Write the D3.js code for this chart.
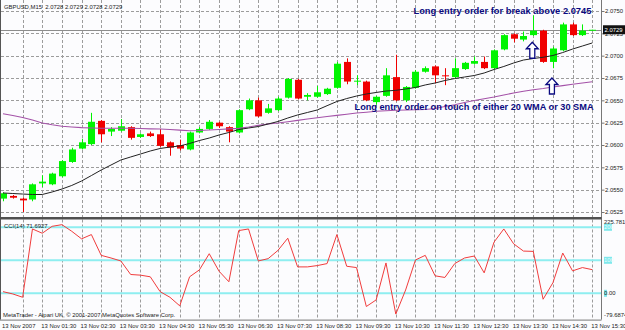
<!DOCTYPE html>
<html>
<head>
  <title>GBPUSD M15</title>
  <script src="https://cdnjs.cloudflare.com/ajax/libs/d3/7.8.5/d3.min.js"></script>
  <style>
    body {
        margin: 0;
        background: #fcfcfe;
    }
    svg {
        display: block;
        font-family: "Liberation Sans", Arial, sans-serif;
    }
  </style>
</head>
<body>
<div id="chart"></div>
<script>
// ---------------- data (M15 bars, 13 Nov 2007) ----------------
var opens = [2.0540, 2.0543, 2.0540, 2.0539, 2.0557, 2.0556, 2.0565, 2.0581, 2.0596, 2.0601,
             2.0627, 2.0615, 2.0616, 2.0620, 2.0609, 2.0613, 2.0612, 2.0603, 2.0600, 2.0595,
             2.0614, 2.0618, 2.0625, 2.0620, 2.0614, 2.0640, 2.0650, 2.0636, 2.0639, 2.0653,
             2.0673, 2.0654, 2.0654, 2.0657, 2.0664, 2.0693, 2.0671, 2.0671, 2.0648, 2.0655,
             2.0676, 2.0650, 2.0664, 2.0682, 2.0688, 2.0678, 2.0676, 2.0685, 2.0691, 2.0693,
             2.0686, 2.0707, 2.0724, 2.0718, 2.0723, 2.0728, 2.0693, 2.0706, 2.0735, 2.0723, 2.0728];
var highs = [2.0547, 2.0544, 2.0541, 2.0557, 2.0566, 2.0569, 2.0583, 2.0597, 2.0607, 2.0636,
             2.0628, 2.0620, 2.0629, 2.0621, 2.0613, 2.0615, 2.0618, 2.0604, 2.0606, 2.0615,
             2.0620, 2.0628, 2.0626, 2.0621, 2.0640, 2.0652, 2.0653, 2.0646, 2.0654, 2.0675,
             2.0674, 2.0658, 2.0666, 2.0664, 2.0693, 2.0697, 2.0678, 2.0672, 2.0655, 2.0686,
             2.0701, 2.0666, 2.0684, 2.0688, 2.0689, 2.0686, 2.0697, 2.0693, 2.0699, 2.0699,
             2.0707, 2.0724, 2.0725, 2.0727, 2.0745, 2.0729, 2.0710, 2.0737, 2.0737, 2.0735, 2.0729];
var lows = [2.0537, 2.0540, 2.0525, 2.0537, 2.0553, 2.0555, 2.0564, 2.0580, 2.0595, 2.0600,
            2.0603, 2.0610, 2.0615, 2.0606, 2.0608, 2.0609, 2.0598, 2.0588, 2.0594, 2.0594,
            2.0613, 2.0617, 2.0619, 2.0603, 2.0613, 2.0639, 2.0631, 2.0635, 2.0638, 2.0652,
            2.0651, 2.0650, 2.0653, 2.0656, 2.0663, 2.0668, 2.0667, 2.0649, 2.0645, 2.0654,
            2.0649, 2.0648, 2.0663, 2.0681, 2.0669, 2.0667, 2.0675, 2.0684, 2.0690, 2.0685,
            2.0685, 2.0706, 2.0715, 2.0716, 2.0722, 2.0692, 2.0686, 2.0705, 2.0722, 2.0722, 2.0728];
var closes = [2.0546, 2.0541, 2.0538, 2.0556, 2.0559, 2.0568, 2.0582, 2.0595, 2.0603, 2.0626,
              2.0612, 2.0618, 2.0621, 2.0608, 2.0612, 2.0610, 2.0599, 2.0597, 2.0596, 2.0614,
              2.0618, 2.0626, 2.0621, 2.0615, 2.0639, 2.0650, 2.0632, 2.0641, 2.0652, 2.0674,
              2.0652, 2.0656, 2.0659, 2.0663, 2.0691, 2.0671, 2.0672, 2.0650, 2.0654, 2.0678,
              2.0650, 2.0665, 2.0682, 2.0686, 2.0678, 2.0677, 2.0686, 2.0692, 2.0694, 2.0686,
              2.0706, 2.0723, 2.0719, 2.0722, 2.0728, 2.0693, 2.0708, 2.0735, 2.0723, 2.0728, 2.0729];

// 20 WMA (black) and 30 SMA (purple)
var wma20 = [2.05463, 2.05457, 2.05451, 2.05446, 2.05446, 2.05474, 2.05507, 2.05547, 2.05597, 2.05658,
             2.05720, 2.05776, 2.05832, 2.05866, 2.05899, 2.05933, 2.05961, 2.05977, 2.05989, 2.06017,
             2.06050, 2.06078, 2.06112, 2.06140, 2.06173, 2.06190, 2.06207, 2.06235, 2.06263, 2.06302,
             2.06336, 2.06364, 2.06392, 2.06440, 2.06487, 2.06520, 2.06548, 2.06571, 2.06588, 2.06604,
             2.06612, 2.06627, 2.06644, 2.06672, 2.06694, 2.06722, 2.06744, 2.06761, 2.06778, 2.06806,
             2.06845, 2.06879, 2.06918, 2.06951, 2.06968, 2.06982, 2.07002, 2.07035, 2.07074, 2.07108, 2.07142];
var sma30 = [2.06349, 2.06330, 2.06308, 2.06280, 2.06246, 2.06226, 2.06210, 2.06201, 2.06194, 2.06190,
             2.06187, 2.06187, 2.06187, 2.06187, 2.06185, 2.06181, 2.06179, 2.06173, 2.06166, 2.06160,
             2.06162, 2.06168, 2.06174, 2.06180, 2.06186, 2.06201, 2.06220, 2.06235, 2.06246, 2.06261,
             2.06276, 2.06291, 2.06305, 2.06319, 2.06332, 2.06345, 2.06358, 2.06367, 2.06377, 2.06384,
             2.06389, 2.06392, 2.06394, 2.06397, 2.06408, 2.06431, 2.06451, 2.06476, 2.06498, 2.06517,
             2.06537, 2.06560, 2.06582, 2.06601, 2.06618, 2.06632, 2.06649, 2.06665, 2.06680, 2.06694, 2.06708];

// CCI(14)
var cci14 = [5, -2, -12, 195, 182, 203, 208, 188, 165, 178,
             115, 107, 98, 57, 55, 50, 5, -12, -38, 50,
             71, 120, 67, 35, 190, 195, 98, 105, 130, 167,
             80, 80, 84, 90, 178, 82, 78, -40, -20, 92,
             -63, 10, 101, 115, 53, 48, 90, 107, 113, 62,
             155, 195, 150, 128, 127, -18, 32, 122, 68, 78, 71.6927];

var timeLabels = ['13 Nov 2007', '13 Nov 01:30', '13 Nov 02:30', '13 Nov 03:30', '13 Nov 04:30',
                  '13 Nov 05:30', '13 Nov 06:30', '13 Nov 07:30', '13 Nov 08:30', '13 Nov 09:30',
                  '13 Nov 10:30', '13 Nov 11:30', '13 Nov 12:30', '13 Nov 13:30', '13 Nov 14:30',
                  '13 Nov 15:30'];
var priceTicks = [2.0750, 2.0725, 2.0700, 2.0675, 2.0650, 2.0625, 2.0600, 2.0575, 2.0550, 2.0525];
var cciRange = [-79.6874, 225.7810];
var cciLevels = [200, 100, 0];
var bidPrice = 2.0729;

var notes = [
    {text: 'Long entry order for break above 2.0745', bar: 42, price: 2.0747, len: 178},
    {text: 'Long entry order on touch of either 20 WMA or 30 SMA', bar: 36, price: 2.0639, len: 239}
];
var arrows = [{bar: 54, price: 2.0715}, {bar: 56, price: 2.0675}];

//----------------------------------------
// SVG setup
var width = 625,
    height = 330;
var left = 1, right = 601.5;
var mainTop = 0, mainBottom = 217;
var cciTop = 219.5, cciBottom = 319.6;

var svg = d3.select('#chart').append('svg')
    .attr('width', width)
    .attr('height', height);

svg.append('rect')
    .attr('width', width).attr('height', height)
    .attr('fill', '#fcfcfe');

var defs = svg.append('defs');
defs.append('clipPath').attr('id', 'clipMain')
    .append('rect').attr('x', left).attr('y', mainTop)
    .attr('width', right - left).attr('height', mainBottom - mainTop);
defs.append('clipPath').attr('id', 'clipCci')
    .append('rect').attr('x', left).attr('y', cciTop)
    .attr('width', right - left).attr('height', cciBottom - cciTop);

//----------------------------------------
// Scales
var idx = d3.range(opens.length);
var x = d3.scaleLinear().domain([0, 60]).range([3, 592.2]);
var y = d3.scaleLinear().domain([2.0525, 2.0750]).range([212, 11]);
var yc = d3.scaleLinear().domain(cciRange).range([cciBottom, 218.8]);

var gridColor = '#9c9c9c';

//----------------------------------------
// Grid
var grid = svg.append('g');
var vIdx = d3.range(2, 61, 2);
[[mainTop, mainBottom], [cciTop, cciBottom]].forEach(function(r) {
    grid.selectAll(null)
        .data(vIdx)
        .enter()
        .append('line')
        .attr('x1', function(d) { return Math.round(x(d)) + 0.5; })
        .attr('x2', function(d) { return Math.round(x(d)) + 0.5; })
        .attr('y1', r[0]).attr('y2', r[1])
        .attr('stroke', gridColor)
        .attr('stroke-width', 1)
        .attr('stroke-dasharray', '3,2');
});
grid.selectAll('.hgrid')
    .data(priceTicks)
    .enter()
    .append('line')
    .attr('x1', left).attr('x2', right)
    .attr('y1', function(d) { return Math.round(y(d)) + 0.5; })
    .attr('y2', function(d) { return Math.round(y(d)) + 0.5; })
    .attr('stroke', gridColor)
    .attr('stroke-dasharray', '3,2');

// bid line
svg.append('line')
    .attr('x1', left).attr('x2', right)
    .attr('y1', Math.round(y(bidPrice)) + 0.5)
    .attr('y2', Math.round(y(bidPrice)) + 0.5)
    .attr('stroke', '#8c8c8c');

//----------------------------------------
// Candles
var main = svg.append('g').attr('clip-path', 'url(#clipMain)');
var up = '#00f400', down = '#f00000';
var candles = main.selectAll('.candle')
    .data(idx)
    .enter()
    .append('g');

candles.append('line')
    .attr('x1', function(i) { return Math.round(x(i)) + 0.5; })
    .attr('x2', function(i) { return Math.round(x(i)) + 0.5; })
    .attr('y1', function(i) { return y(highs[i]); })
    .attr('y2', function(i) { return y(lows[i]); })
    .attr('stroke', function(i) { return closes[i] >= opens[i] ? up : down; });

candles.append('rect')
    .attr('x', function(i) { return Math.round(x(i)) - 3; })
    .attr('width', 7)
    .attr('y', function(i) { return y(Math.max(opens[i], closes[i])); })
    .attr('height', function(i) {
        return Math.max(1, Math.abs(y(opens[i]) - y(closes[i])));
    })
    .attr('fill', function(i) { return closes[i] >= opens[i] ? up : down; });

// moving averages
var maLine = function(arr) {
    return d3.line()
        .x(function(i) { return x(i); })
        .y(function(i) { return y(arr[i]); })(idx);
};
main.append('path')
    .attr('d', maLine(sma30))
    .attr('fill', 'none')
    .attr('stroke', '#a452a8')
    .attr('stroke-width', 1.1);
main.append('path')
    .attr('d', maLine(wma20))
    .attr('fill', 'none')
    .attr('stroke', '#222')
    .attr('stroke-width', 1);

// annotations
main.selectAll('.note')
    .data(notes)
    .enter()
    .append('text')
    .attr('x', function(d) { return x(d.bar) - 2; })
    .attr('y', function(d) { return y(d.price); })
    .attr('textLength', function(d) { return d.len; })
    .attr('lengthAdjust', 'spacingAndGlyphs')
    .attr('font-size', '9.3px')
    .attr('font-weight', 'bold')
    .attr('fill', '#0a0a80')
    .text(function(d) { return d.text; });

// hollow up arrows
main.selectAll('.arrow')
    .data(arrows)
    .enter()
    .append('path')
    .attr('transform', function(d) {
        return 'translate(' + (x(d.bar) - 1) + ',' + y(d.price) + ')';
    })
    .attr('d', 'M0,0 L6,6.5 L2.5,6.5 L2.5,16 L-2.5,16 L-2.5,6.5 L-6,6.5 Z')
    .attr('fill', '#ffffff')
    .attr('stroke', '#0a0a80')
    .attr('stroke-width', 1.3);

//----------------------------------------
// CCI panel
var cci = svg.append('g').attr('clip-path', 'url(#clipCci)');
cci.selectAll('.level')
    .data(cciLevels)
    .enter()
    .append('line')
    .attr('x1', left).attr('x2', right)
    .attr('y1', function(d) { return yc(d); })
    .attr('y2', function(d) { return yc(d); })
    .attr('stroke', '#8eeef0')
    .attr('stroke-width', 2);

cci.append('path')
    .attr('d', d3.line()
        .x(function(i) { return x(i); })
        .y(function(i) { return yc(cci14[i]); })(idx))
    .attr('fill', 'none')
    .attr('stroke', '#f03c3c')
    .attr('stroke-width', 1);

//----------------------------------------
// Frames
svg.append('line').attr('x1', 0.5).attr('x2', 0.5).attr('y1', 0).attr('y2', cciBottom)
    .attr('stroke', '#555');
svg.append('line').attr('x1', right).attr('x2', right).attr('y1', 0).attr('y2', cciBottom)
    .attr('stroke', '#777');
svg.append('line').attr('x1', 0).attr('x2', right).attr('y1', 218.2).attr('y2', 218.2)
    .attr('stroke', '#505050').attr('stroke-width', 2.6);
svg.append('line').attr('x1', 0).attr('x2', right).attr('y1', cciBottom + 0.5).attr('y2', cciBottom + 0.5)
    .attr('stroke', '#777');

//----------------------------------------
// Axes
var fs = '5.9px';
var priceAxis = d3.axisRight(y)
    .tickValues(priceTicks)
    .tickFormat(d3.format('.4f'))
    .tickSize(3)
    .tickPadding(0.5);
var pa = svg.append('g')
    .attr('transform', 'translate(' + right + ',0)')
    .call(priceAxis);
pa.select('.domain').remove();
pa.selectAll('line').attr('stroke', '#777');
pa.selectAll('text').attr('font-size', fs).attr('fill', '#222').attr('font-family', null);

// bid label
var by = y(bidPrice);
svg.append('rect')
    .attr('x', right + 1.5).attr('y', by - 4.5)
    .attr('width', 22).attr('height', 9)
    .attr('fill', '#111');
svg.append('text')
    .attr('x', right + 3).attr('y', by + 2)
    .attr('font-size', fs).attr('fill', '#fff')
    .text(d3.format('.4f')(bidPrice));

// cci labels
var cciLabels = [
    {v: cciRange[1], t: '225.7810', dy: 2.8},
    {v: 200, t: '200', box: 8},
    {v: 100, t: '100', box: 8},
    {v: 0, t: '0.00', box: 3},
    {v: cciRange[0], t: '-79.6874', dy: -4.2}
];
var cl = svg.append('g').selectAll('g')
    .data(cciLabels)
    .enter()
    .append('g')
    .attr('transform', function(d) {
        return 'translate(' + (right + 2.5) + ',' + (yc(d.v) + (d.dy || 0)) + ')';
    });
cl.filter(function(d) { return d.box; })
    .append('rect')
    .attr('x', 0).attr('y', -3.5)
    .attr('width', function(d) { return d.box; }).attr('height', 7)
    .attr('fill', '#7fe8ec');
cl.append('text')
    .attr('y', 2)
    .attr('font-size', fs)
    .attr('fill', function(d) { return d.box === 8 ? '#e8ffff' : '#222'; })
    .text(function(d) { return d.t; });

// time axis
var timeIdx = d3.range(0, 61, 4);
var timeAxis = d3.axisBottom(x)
    .tickValues(timeIdx)
    .tickFormat(function(d, i) { return timeLabels[i]; })
    .tickSize(0)
    .tickPadding(0);
var ta = svg.append('g')
    .attr('transform', 'translate(0,' + cciBottom + ')')
    .call(timeAxis);
ta.select('.domain').remove();
ta.selectAll('text')
    .attr('text-anchor', 'start')
    .attr('dx', -1.5)
    .attr('dy', 0)
    .attr('y', 8.4)
    .attr('font-size', fs)
    .attr('fill', '#222')
    .attr('font-family', null);

//----------------------------------------
// Window captions
svg.append('text')
    .attr('x', 4).attr('y', 8.5)
    .attr('font-size', fs).attr('fill', '#222')
    .text('GBPUSD,M15\u00a0\u00a0' + [opens[60], highs[60], lows[60], closes[60]]
        .map(d3.format('.4f')).join('\u00a0'));
svg.append('text')
    .attr('x', 4).attr('y', 227.5)
    .attr('font-size', fs).attr('fill', '#222')
    .text('CCI(14)\u00a0' + d3.format('.4f')(cci14[60]));
svg.append('text')
    .attr('x', 3).attr('y', 317)
    .attr('font-size', fs).attr('fill', '#222')
    .text('MetaTrader - Alpari UK, \u00a9 2001-2007 MetaQuotes Software Corp.');
</script>
</body>
</html>
